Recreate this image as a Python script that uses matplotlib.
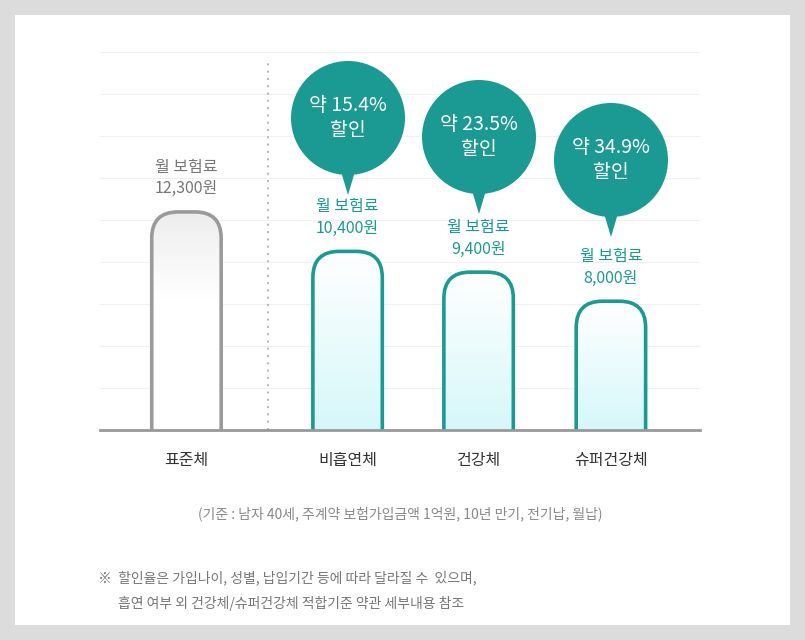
import matplotlib
matplotlib.use("Agg")
import matplotlib.pyplot as plt
import numpy as np
from matplotlib.patches import FancyBboxPatch, Circle, Polygon, Rectangle

plt.rcParams["font.family"] = ["Noto Sans CJK KR", "Noto Sans CJK JP", "Noto Sans CJK SC", "DejaVu Sans"]

categories = ["표준체", "비흡연체", "건강체", "슈퍼건강체"]
premiums = [12300, 10400, 9400, 8000]
discounts = [None, "15.4%", "23.5%", "34.9%"]
xpos = [0.0, 1.23, 2.23, 3.24]

TEAL = "#1a9a93"
W, H = 805, 640
fig = plt.figure(figsize=(W/100, H/100), dpi=100)
fig.patch.set_facecolor("#dcdcdc")
bg = fig.add_axes([0, 0, 1, 1]); bg.set_xlim(0, W); bg.set_ylim(H, 0); bg.axis("off")
bg.add_patch(Rectangle((15, 15), 775, 610, facecolor="white", edgecolor="none"))

ax = fig.add_axes([100/W, (H-430)/H, 600/W, 378/H])
ax.set_facecolor("none")
ymin, ymax = 1800, 20000
ax.set_xlim(-0.66, 3.92); ax.set_ylim(ymin, ymax)
for s in ax.spines.values(): s.set_visible(False)
ax.set_xticks([]); ax.set_yticks([])
for g in np.linspace(ymin, ymax, 10)[1:]:
    ax.axhline(g, color="#f0f0f0", lw=0.8, zorder=0)
ax.axhline(ymin, color="#999999", lw=2, zorder=5, clip_on=False)
ax.axvline(0.62, ymin=0, ymax=0.985, color="#bbbbbb", lw=1.5, ls=(0, (1, 2.5)), zorder=1)

bw = 0.53
px_per_x = 600 / 4.58; px_per_y = 378 / (ymax - ymin)
aspect = (1/px_per_y) / (1/px_per_x)
grad = np.linspace(0, 1, 100)[:, None]
for i, (x, v) in enumerate(zip(xpos, premiums)):
    ec = "#9a9a9a" if i == 0 else TEAL
    p = FancyBboxPatch((x - bw/2, ymin - 3000), bw, v - ymin + 3000,
                       boxstyle="round,pad=0,rounding_size=0.2", mutation_aspect=aspect,
                       facecolor="none", edgecolor=ec, lw=2.6, zorder=4)
    ax.add_patch(p)
    if i == 0:
        # gray at top fading to white
        top = np.array([0.93, 0.93, 0.93])
        cols = np.clip(np.array([1, 1, 1]) * (1 - grad**3) + top * grad**3, 0, 1)
        cols = np.where(grad > 0.75, cols, 1.0)
        cols = np.array([1, 1, 1]) * (1 - np.clip((grad - 0.6) / 0.4, 0, 1)) + top * np.clip((grad - 0.6) / 0.4, 0, 1)
    else:
        bot = np.array([0.84, 0.97, 0.98])
        cols = bot * (1 - grad) + np.array([1, 1, 1]) * grad
    img = ax.imshow(cols[:, None, :], extent=(x - bw/2, x + bw/2, ymin, v),
                    aspect="auto", origin="lower", zorder=3)
    img.set_clip_path(p)
    col = "#777777" if i == 0 else TEAL
    ax.text(x, v + 700, f"월 보험료\n{v:,}원", ha="center", va="bottom",
            fontsize=11.5, color=col, linespacing=1.35, zorder=6)
    ax.text(x, ymin - 1450, categories[i], ha="center", va="center",
            fontsize=11.5, color="#333333", clip_on=False)
ax.set_ylim(ymin, ymax)

ov = fig.add_axes([0, 0, 1, 1]); ov.set_xlim(0, W); ov.set_ylim(H, 0); ov.axis("off")
ov.patch.set_alpha(0)
bubbles = [(348, 118), (479, 137), (611, 160)]
for (cx, cy), d in zip(bubbles, discounts[1:]):
    ov.add_patch(Circle((cx, cy), 57, facecolor=TEAL, edgecolor="none"))
    ov.add_patch(Polygon([(cx-8, cy+50), (cx+8, cy+50), (cx, cy+77)], facecolor=TEAL, edgecolor="none"))
    ov.text(cx, cy, f"약 {d}\n할인", ha="center", va="center", color="white",
            fontsize=14, linespacing=1.25)

ov.text(400, 514, "(기준 : 남자 40세, 주계약 보험가입금액 1억원, 10년 만기, 전기납, 월납)",
        ha="center", va="center", fontsize=10, color="#888888")
ov.text(98, 578, "※  할인율은 가입나이, 성별, 납입기간 등에 따라 달라질 수  있으며,",
        ha="left", va="center", fontsize=10, color="#777777")
ov.text(118, 603, "흡연 여부 외 건강체/슈퍼건강체 적합기준 약관 세부내용 참조",
        ha="left", va="center", fontsize=10, color="#777777")

fig.savefig("out.png", dpi=100, facecolor=fig.get_facecolor())
